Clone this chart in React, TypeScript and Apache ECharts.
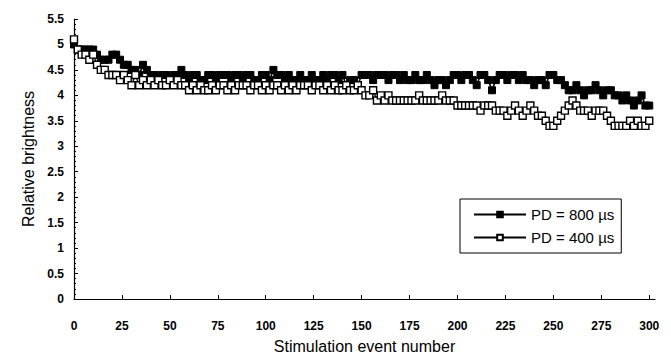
import React, { useEffect, useRef } from "react";
import * as echarts from "echarts";

// Stimulation events sampled every 2 events (0..300)
const EVENTS: number[] = Array.from({ length: 151 }, (_, i) => i * 2);

const PD800: number[] = [
  5.0, 4.9, 4.9, 4.9, 4.9, 4.9,
  4.8, 4.7, 4.7, 4.7, 4.8, 4.8, 4.7, 4.6, 4.6,
  4.5, 4.5, 4.4, 4.6, 4.5,
  4.4, 4.4, 4.3, 4.4, 4.4,
  4.3, 4.4, 4.4, 4.5, 4.4,
  4.3, 4.4, 4.4, 4.3, 4.3,
  4.4, 4.4, 4.3, 4.4, 4.4,
  4.4, 4.3, 4.4, 4.4, 4.3,
  4.4, 4.4, 4.3, 4.3, 4.4,
  4.4, 4.3, 4.5, 4.4, 4.4,
  4.3, 4.4, 4.3, 4.3, 4.4,
  4.3, 4.3, 4.4, 4.3, 4.3,
  4.4, 4.3, 4.4, 4.4, 4.3,
  4.4, 4.2, 4.3, 4.3, 4.2,
  4.4, 4.4, 4.4, 4.3, 4.4,
  4.4, 4.4, 4.3, 4.4, 4.4,
  4.3, 4.4, 4.3, 4.3, 4.4,
  4.3, 4.3, 4.4, 4.3, 4.2,
  4.3, 4.3, 4.2, 4.3, 4.4,
  4.4, 4.3, 4.4, 4.4, 4.3,
  4.2, 4.4, 4.4, 4.3, 4.1,
  4.3, 4.4, 4.4, 4.3, 4.4,
  4.4, 4.3, 4.4, 4.3, 4.3,
  4.2, 4.3, 4.3, 4.2, 4.4,
  4.4, 4.3, 4.3, 4.2, 4.1,
  4.1, 4.2, 4.1, 4.0, 4.1,
  4.1, 4.2, 4.1, 4.0, 4.1,
  4.1, 4.0, 4.0, 3.9, 4.0,
  3.9, 3.8, 3.9, 4.0, 3.8,
  3.8,
];

const PD400: number[] = [
  5.1, 4.9, 4.8, 4.8, 4.7, 4.8,
  4.6, 4.5, 4.5, 4.4, 4.4, 4.4, 4.3, 4.4, 4.3,
  4.2, 4.4, 4.2, 4.3, 4.2,
  4.3, 4.2, 4.3, 4.2, 4.2,
  4.3, 4.2, 4.3, 4.2, 4.2,
  4.1, 4.2, 4.1, 4.2, 4.1,
  4.1, 4.2, 4.1, 4.2, 4.2,
  4.1, 4.2, 4.1, 4.2, 4.2,
  4.2, 4.1, 4.2, 4.2, 4.1,
  4.2, 4.1, 4.2, 4.2, 4.1,
  4.2, 4.1, 4.2, 4.1, 4.2,
  4.2, 4.2, 4.1, 4.2, 4.2,
  4.1, 4.2, 4.1, 4.2, 4.1,
  4.1, 4.2, 4.1, 4.1, 4.2,
  4.1, 4.0, 4.0, 4.1, 3.9,
  4.0, 3.9, 4.0, 3.9, 3.9,
  3.9, 3.9, 3.9, 3.9, 3.9,
  4.0, 3.9, 3.9, 3.9, 3.9,
  3.9, 4.0, 3.9, 3.9, 3.9,
  3.8, 3.8, 3.8, 3.8, 3.8,
  3.8, 3.7, 3.8, 3.8, 3.8,
  3.7, 3.7, 3.7, 3.6, 3.7,
  3.8, 3.7, 3.6, 3.7, 3.8,
  3.7, 3.6, 3.6, 3.5, 3.4,
  3.4, 3.5, 3.6, 3.7, 3.8,
  3.9, 3.8, 3.7, 3.7, 3.7,
  3.6, 3.7, 3.7, 3.7, 3.6,
  3.5, 3.4, 3.4, 3.4, 3.4,
  3.5, 3.4, 3.5, 3.4, 3.4,
  3.5,
];

const SERIES_NAMES = ["PD = 800 µs", "PD = 400 µs"];
const X_TICKS = { min: 0, max: 303, interval: 25 };
const Y_TICKS = { min: 0, max: 5.5, interval: 0.5 };

const FONT = "Liberation Sans, Arial, sans-serif";

export default function App() {
  const ref = useRef<HTMLDivElement>(null);

  useEffect(() => {
    if (!ref.current) return;
    const chart = echarts.init(ref.current, undefined, { renderer: "svg" });
    const d800 = EVENTS.map((e, i) => [e, PD800[i]]);
    const d400 = EVENTS.map((e, i) => [e, PD400[i]]);
    chart.setOption({
      animation: false,
      backgroundColor: "#fff",
      textStyle: { fontFamily: FONT, color: "#000" },
      grid: { left: 74, right: 16, top: 19, bottom: 54, containLabel: false },
      legend: {
        orient: "vertical",
        left: 460,
        top: 199,
        padding: [8, 7, 8, 13],
        itemWidth: 52,
        itemHeight: 7,
        itemGap: 8,
        borderColor: "#000",
        borderWidth: 1,
        borderRadius: 0,
        backgroundColor: "#fff",
        textStyle: { fontFamily: FONT, fontSize: 15, color: "#000" },
        data: SERIES_NAMES,
      },
      xAxis: {
        type: "value",
        min: X_TICKS.min,
        max: X_TICKS.max,
        interval: X_TICKS.interval,
        name: "Stimulation event number",
        nameLocation: "middle",
        nameGap: 39,
        nameTextStyle: { fontFamily: FONT, fontSize: 16, color: "#000" },
        axisLine: { show: true, lineStyle: { color: "#000", width: 1.2 } },
        axisTick: { show: true, inside: true, length: 4, lineStyle: { color: "#000" } },
        axisLabel: {
          fontFamily: FONT,
          fontSize: 12,
          fontWeight: "bold",
          color: "#000",
          margin: 21,
          showMaxLabel: false,
        },
        splitLine: { show: false },
      },
      yAxis: {
        type: "value",
        min: Y_TICKS.min,
        max: Y_TICKS.max,
        interval: Y_TICKS.interval,
        name: "Relative brightness",
        nameLocation: "middle",
        nameGap: 38,
        nameTextStyle: { fontFamily: FONT, fontSize: 16, color: "#000" },
        axisLine: { show: true, lineStyle: { color: "#000", width: 1.2 } },
        axisTick: { show: true, inside: true, length: 4, lineStyle: { color: "#000" } },
        minorTick: { show: true, splitNumber: 5, length: 2, lineStyle: { color: "#000" } },
        axisLabel: {
          fontFamily: FONT,
          fontSize: 12,
          fontWeight: "bold",
          color: "#000",
          margin: 10,
        },
        splitLine: { show: false },
      },
      series: [
        {
          name: SERIES_NAMES[0],
          type: "line",
          data: d800,
          symbol: "rect",
          symbolSize: 7,
          showAllSymbol: true,
          lineStyle: { color: "#000", width: 1.6 },
          itemStyle: { color: "#000", borderColor: "#000", borderWidth: 1 },
          z: 2,
        },
        {
          name: SERIES_NAMES[1],
          type: "line",
          data: d400,
          symbol: "rect",
          symbolSize: 7,
          showAllSymbol: true,
          lineStyle: { color: "#000", width: 1.3 },
          itemStyle: { color: "#fff", borderColor: "#000", borderWidth: 1.4 },
          z: 3,
        },
      ],
    });
    return () => chart.dispose();
  }, []);

  return <div ref={ref} style={{ width: 671, height: 359, position: "absolute", left: 0, top: 0 }} />;
}
